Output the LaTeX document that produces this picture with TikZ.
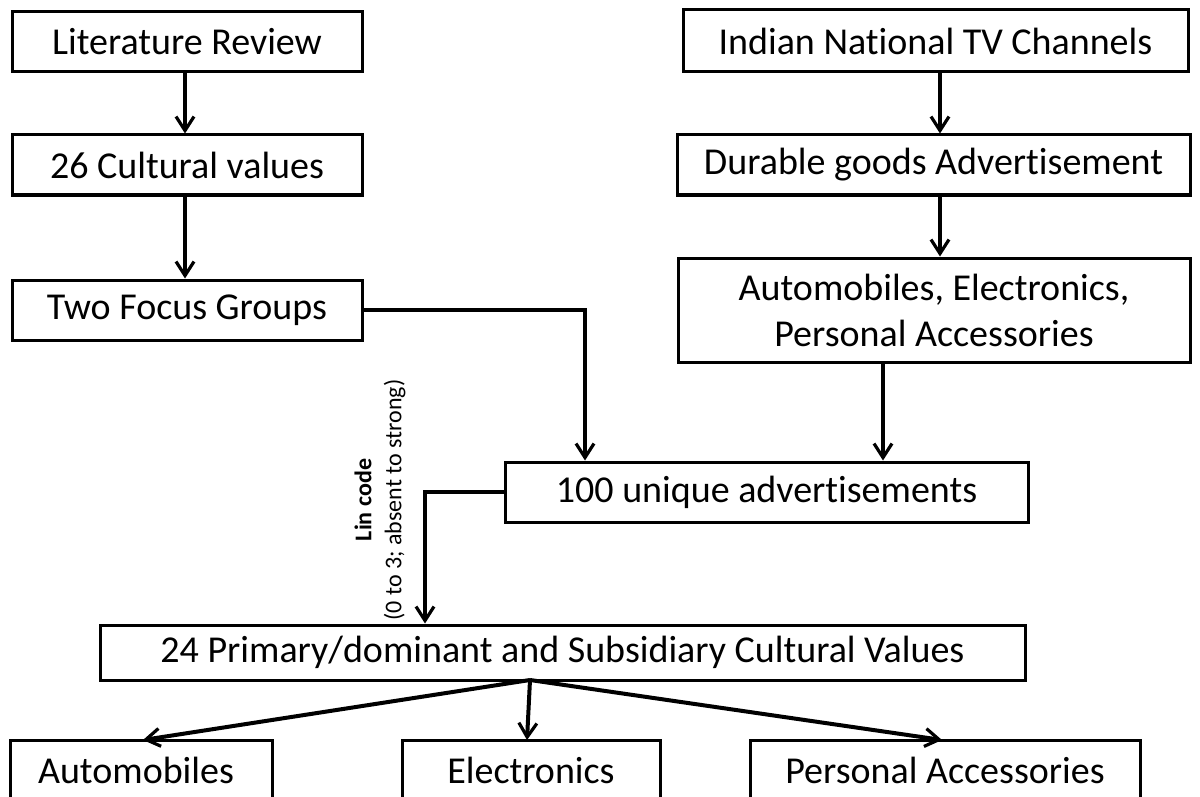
\documentclass[tikz,border=0pt]{standalone}
\usepackage{fontspec}
\setmainfont{Carlito}[Ligatures=NoCommon]
\usetikzlibrary{arrows.meta}
\begin{document}
\begin{tikzpicture}[x=0.5pt,y=-0.5pt,
  box/.style={draw=black,line width=1.5pt,inner sep=0pt,align=center,font=\fontsize{19}{22}\selectfont},
  lbl/.style={font=\fontsize{19}{22}\selectfont},
  arr/.style={line width=2pt,-{Straight Barb[length=7pt,width=9pt,line width=1.6pt]}},
  conn/.style={line width=2pt}]
\useasboundingbox (0,0) rectangle (1200,797);
\node[box,minimum width=175pt,minimum height=30pt] (lit) at (187,42) {Literature Review};
\node[box,minimum width=175pt,minimum height=30pt] (cv) at (187,165) {26 Cultural values};
\node[box,minimum width=175pt,minimum height=30pt] (tfg) at (187,310) {Two Focus Groups};
\node[box,minimum width=252.5pt,minimum height=31pt] (tv) at (935.5,41) {Indian National TV Channels};
\node[box,minimum width=256.5pt,minimum height=30pt] (dur) at (933.5,165) {Durable goods Advertisement};
\node[box,minimum width=256pt,minimum height=52pt] (auto) at (934,310) {Automobiles, Electronics,\\[1pt]Personal Accessories};
\node[box,minimum width=261.5pt,minimum height=30pt] (ads) at (766.5,492) {100 unique advertisements};
\node[box,minimum width=462.5pt,minimum height=27.5pt] (prim) at (562.5,652.5) {24 Primary/dominant and Subsidiary Cultural Values};
\node[box,minimum width=131pt,minimum height=30pt] (ba) at (141,770) {};
\node[box,minimum width=129pt,minimum height=30pt] (be) at (531,770) {};
\node[box,minimum width=195pt,minimum height=30pt] (bp) at (945,770) {};
\node[lbl] (bat) at (136,770) {Automobiles};
\node[lbl] (bet) at (531,770) {Electronics};
\node[lbl] (bpt) at (945,770) {Personal Accessories};
\node[rotate=90,align=center,font=\fontsize{12}{15}\selectfont] (lin) at (380,500) {\textbf{Lin code}\\(0 to 3; absent to strong)};
\coordinate (l1) at (185,0);
\draw[arr] (l1 |- lit.south) -- (l1 |- cv.north);
\draw[arr] (l1 |- cv.south) -- (l1 |- tfg.north);
\coordinate (t1) at (940,0);
\draw[arr] (t1 |- tv.south) -- (t1 |- dur.north);
\draw[arr] (t1 |- dur.south) -- (t1 |- auto.north);
\coordinate (a1) at (883,0);
\draw[arr] (a1 |- auto.south) -- (a1 |- ads.north);
\coordinate (f1) at (585,310);
\draw[arr] (tfg.east) -- (f1) -- (f1 |- ads.north);
\coordinate (g1) at (425,492);
\draw[arr] (ads.west) -- (g1) -- (g1 |- prim.north);
\coordinate (p0) at (530,680);
\coordinate (pa) at (143,740);
\coordinate (pe) at (527,740);
\coordinate (pp) at (942,740);
\draw[arr] (p0) -- (pa);
\draw[arr] (p0) -- (pe);
\draw[arr] (p0) -- (pp);
\end{tikzpicture}
\end{document}
